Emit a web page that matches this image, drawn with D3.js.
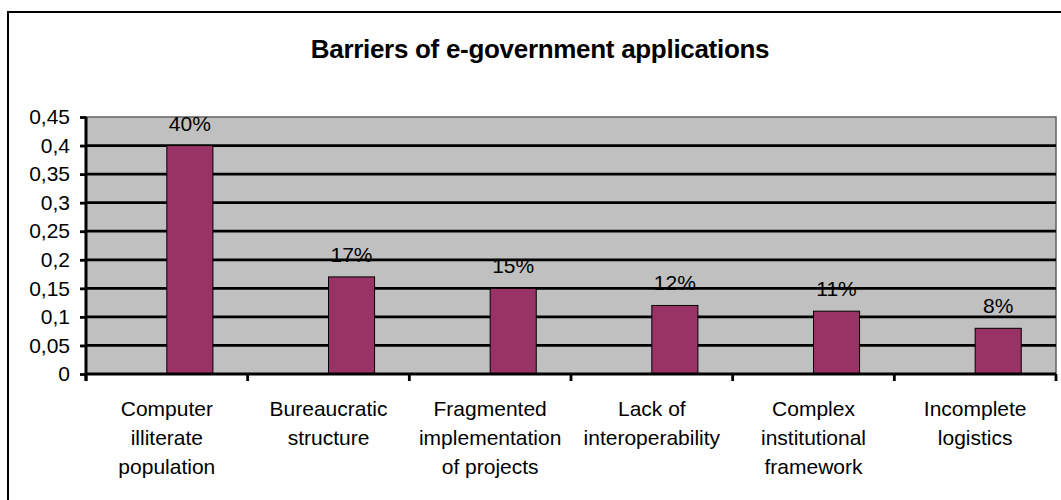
<!DOCTYPE html>
<html>
<head>
<meta charset="utf-8">
<script src="https://cdn.jsdelivr.net/npm/d3@7"></script>
<style>
  html, body { margin: 0; padding: 0; background: #fff; }
  svg { display: block; font-family: "Liberation Sans", Arial, sans-serif; }
</style>
</head>
<body>
<svg id="chart" width="1061" height="500"></svg>
<script>
// Barriers of e-government applications (share of respondents)
const categories = [
  ["Computer", "illiterate", "population"],
  ["Bureaucratic", "structure"],
  ["Fragmented", "implementation", "of projects"],
  ["Lack of", "interoperability"],
  ["Complex", "institutional", "framework"],
  ["Incomplete", "logistics"]
];
const values = [0.40, 0.17, 0.15, 0.12, 0.11, 0.08];
const valueLabels = ["40%", "17%", "15%", "12%", "11%", "8%"];
const yTicks = [0, 0.05, 0.1, 0.15, 0.2, 0.25, 0.3, 0.35, 0.4, 0.45];
const yTickLabels = ["0", "0,05", "0,1", "0,15", "0,2", "0,25", "0,3", "0,35", "0,4", "0,45"];
const title = "Barriers of e-government applications";

const svg = d3.select("#chart");
const plot = { left: 86, right: 1056, top: 117, bottom: 374 };
const fontSize = 21;

const keys = categories.map(c => c.join(" "));
const x = d3.scaleBand().domain(keys).range([plot.left, plot.right]).padding(0);
const y = d3.scaleLinear().domain([0, 0.45]).range([plot.bottom, plot.top]);
const barW = x.bandwidth() * 0.285;

// outer chart frame
svg.append("rect")
  .attr("x", 8).attr("y", 12).attr("width", 1100).attr("height", 540)
  .attr("fill", "#fff").attr("stroke", "#000").attr("stroke-width", 2);

// title
svg.append("text")
  .attr("x", 540).attr("y", 58)
  .attr("text-anchor", "middle")
  .attr("font-size", 26).attr("font-weight", "bold")
  .attr("letter-spacing", -0.3)
  .text(title);

// plot background
svg.append("rect")
  .attr("x", plot.left).attr("y", plot.top)
  .attr("width", plot.right - plot.left).attr("height", plot.bottom - plot.top)
  .attr("fill", "#c0c0c0").attr("stroke", "#606060").attr("stroke-width", 1.5);

// horizontal gridlines
svg.append("g").selectAll("line")
  .data(yTicks.filter(t => t > 0 && t < 0.45))
  .join("line")
  .attr("x1", plot.left).attr("x2", plot.right)
  .attr("y1", d => y(d)).attr("y2", d => y(d))
  .attr("stroke", "#000").attr("stroke-width", 2.8);

// bars
svg.append("g").selectAll("rect")
  .data(values)
  .join("rect")
  .attr("x", (d, i) => x(keys[i]) + x.bandwidth() / 2)
  .attr("y", d => y(d))
  .attr("width", barW)
  .attr("height", d => y(0) - y(d))
  .attr("fill", "#993366")
  .attr("stroke", "#000").attr("stroke-width", 1);

// value labels
svg.append("g").selectAll("text")
  .data(values)
  .join("text")
  .attr("x", (d, i) => x(keys[i]) + x.bandwidth() / 2 + barW / 2)
  .attr("y", d => y(d) - 15)
  .attr("text-anchor", "middle")
  .attr("font-size", fontSize)
  .text((d, i) => valueLabels[i]);

// y axis
const yAxis = svg.append("g")
  .attr("transform", `translate(${plot.left},0)`)
  .call(d3.axisLeft(y).tickValues(yTicks).tickSize(6).tickPadding(10)
    .tickFormat((d, i) => yTickLabels[i]));
yAxis.select(".domain").attr("stroke", "#000").attr("stroke-width", 3)
  .attr("d", `M0,${plot.top}V${plot.bottom + 7}`);
yAxis.selectAll(".tick line").attr("stroke", "#000").attr("stroke-width", 2.8);
yAxis.selectAll(".tick text").attr("font-size", fontSize).attr("fill", "#000")
  .attr("font-family", "Liberation Sans, Arial, sans-serif");

// x axis: boundary ticks between categories
const xAxis = svg.append("g")
  .attr("transform", `translate(0,${plot.bottom})`);
xAxis.append("line")
  .attr("x1", plot.left).attr("x2", plot.right)
  .attr("stroke", "#000").attr("stroke-width", 3);
const bounds = keys.map(k => x(k)).concat([x(keys[keys.length - 1]) + x.bandwidth()]);
xAxis.selectAll("line.bt")
  .data(bounds)
  .join("line").attr("class", "bt")
  .attr("x1", d => d).attr("x2", d => d)
  .attr("y1", 0).attr("y2", 7)
  .attr("stroke", "#000").attr("stroke-width", 2.8);

// category labels
const lab = svg.append("g").selectAll("text")
  .data(categories)
  .join("text")
  .attr("text-anchor", "middle")
  .attr("font-size", fontSize)
  .attr("x", (d, i) => x(keys[i]) + x.bandwidth() / 2)
  .attr("y", 416);
lab.selectAll("tspan")
  .data(d => d)
  .join("tspan")
  .attr("x", function () { return d3.select(this.parentNode).attr("x"); })
  .attr("dy", (d, j) => j === 0 ? 0 : 29)
  .text(d => d);
</script>
</body>
</html>
